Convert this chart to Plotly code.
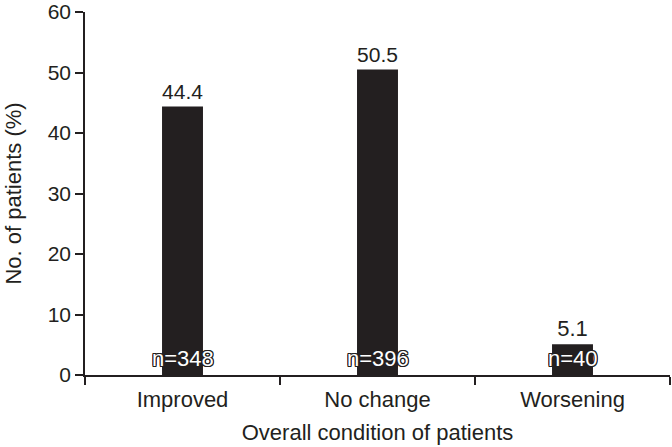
import plotly.graph_objects as go

categories = ["Improved", "No change", "Worsening"]
percentages = [44.4, 50.5, 5.1]
percent_labels = ["44.4", "50.5", "5.1"]
counts = [348, 396, 40]
count_labels = ["n=348", "n=396", "n=40"]
y_ticks = [0, 10, 20, 30, 40, 50, 60]

dark = "#231f20"
font_family = "Liberation Sans, Arial, Helvetica, sans-serif"

fig = go.Figure()
fig.add_trace(go.Bar(
    x=categories,
    y=percentages,
    text=percent_labels,
    textposition="outside",
    textfont=dict(size=22, color=dark, family=font_family),
    cliponaxis=False,
    marker=dict(color=dark, line=dict(width=0)),
    width=0.21,
    showlegend=False,
    hoverinfo="skip",
))

outline = ", ".join(f"{dx}px {dy}px 0 {dark}" for dx, dy in
                    [(1, 1), (-1, -1), (1, -1), (-1, 1), (1, 0), (-1, 0), (0, 1), (0, -1)])
for cat, lab in zip(categories, count_labels):
    fig.add_annotation(
        x=cat, y=0, xref="x", yref="y",
        text=lab, showarrow=False,
        yanchor="bottom", yshift=2,
        font=dict(size=22, color="white", family=font_family, shadow=outline),
    )

fig.update_layout(
    width=672, height=447,
    margin=dict(l=85, r=2, t=12, b=72),
    paper_bgcolor="white", plot_bgcolor="white",
    font=dict(family=font_family, color=dark, size=22),
    bargap=0.79,
)
fig.update_xaxes(
    type="category",
    range=[-0.5, 2.5],
    automargin=False,
    showline=True, linecolor=dark, linewidth=1.5,
    ticks="outside", tickson="boundaries", ticklen=8, tickwidth=1.5, tickcolor=dark,
    tickfont=dict(size=22, color=dark),
    ticklabelstandoff=4,
    showgrid=False, zeroline=False,
    title=dict(text="Overall condition of patients", font=dict(size=22, color=dark), standoff=13),
)
fig.update_yaxes(
    range=[0, 60],
    tickvals=y_ticks,
    automargin=False,
    ticklabeloverflow="allow",
    showline=True, linecolor=dark, linewidth=1.5,
    ticks="outside", ticklen=8, tickwidth=1.5, tickcolor=dark,
    tickfont=dict(size=21, color=dark),
    showgrid=False, zeroline=False,
    title=dict(text="No. of patients (%)", font=dict(size=22, color=dark), standoff=20),
)

fig.write_html(
    "out.html",
    config={"displayModeBar": False},
    post_script="document.body.style.margin='0';document.body.style.overflow='hidden';",
)
